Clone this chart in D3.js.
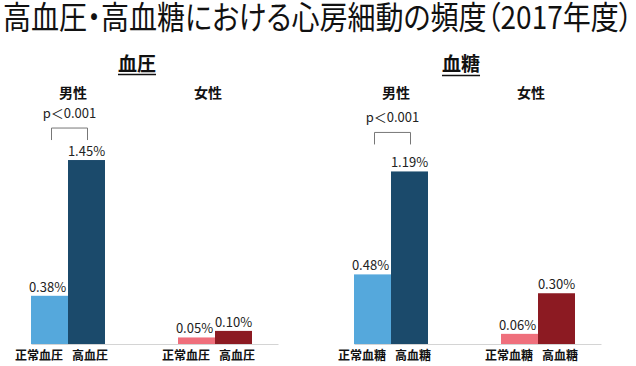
<!DOCTYPE html>
<html><head><meta charset="utf-8">
<script src="https://cdn.jsdelivr.net/npm/d3@7"></script>
<style>
html,body{margin:0;padding:0;background:#fff;}
text{font-family:"Noto Sans CJK JP","Liberation Sans",sans-serif;}
.ttl{font-feature-settings:"palt" 1;}
</style></head>
<body>
<svg id="c" width="636" height="366"></svg>
<script>
// ---- data ----
const title = "高血圧・高血糖における心房細動の頻度（2017年度）";
const panels = ["血圧", "血糖"];
const sexes = ["男性", "女性"];
const catsBP = ["正常血圧", "高血圧"];
const catsBS = ["正常血糖", "高血糖"];
const bpMale = [0.38, 1.45];
const bpFemale = [0.05, 0.10];
const bsMale = [0.48, 1.19];
const bsFemale = [0.06, 0.30];
const pText = ["p＜0.001", "p＜0.001"]; // male comparison in each panel
// y-domain maxima per panel/sex (as drawn in the original figure)
const yMax = [[1.6, 1.55], [1.4, 1.2]];

// ---- layout ----
const baseY = 344, topY = 141;
const panelX0 = [68, 391];
const groupStep = 147;
const barW = 37;
const colors = [["#55a8dc", "#1b4a6b"], ["#ef6f7c", "#8c1a22"]];
const bracketGap = [32, 39];

const svg = d3.select("#c");

// title (vertically stretched as in the original image)
const t = svg.append("text").attr("class", "ttl").attr("x", 0).attr("y", 0)
  .attr("font-size", 26).attr("fill", "#111")
  .attr("transform", "translate(3,29) scale(1,1.22)")
  .text(title);
const tw = t.node().getComputedTextLength();
if (tw > 630) t.attr("textLength", 630).attr("lengthAdjust", "spacingAndGlyphs");
else t.attr("transform", `translate(3,29) scale(${630 / tw},1.22)`);

const panelData = [
  { name: panels[0], cats: catsBP, vals: [bpMale, bpFemale] },
  { name: panels[1], cats: catsBS, vals: [bsMale, bsFemale] }
];

panelData.forEach((p, pi) => {
  const g = svg.append("g");
  const xs = d3.scalePoint().domain(sexes).range([panelX0[pi], panelX0[pi] + groupStep]);
  const xb = d3.scaleBand().domain([0, 1]).range([-barW, barW]).paddingInner(0).paddingOuter(0);

  // baseline axis
  const x1 = xs(sexes[0]) - barW, x2 = xs(sexes[1]) + barW + 26;
  const axisScale = d3.scaleLinear().domain([0, 1]).range([x1, x2]);
  const axisG = g.append("g").attr("transform", `translate(0,${baseY})`)
    .call(d3.axisBottom(axisScale).tickValues([]).tickSizeOuter(0));
  axisG.select(".domain").attr("stroke", "#d4d4d4").attr("stroke-width", 1);

  // panel title, underlined
  const pc = pi === 0 ? 137 : 461;
  const pt = g.append("text").attr("x", pc).attr("y", 71).attr("text-anchor", "middle")
    .attr("font-size", 19).attr("font-weight", "bold").attr("fill", "#111").text(p.name);
  const bb = pt.node().getBBox();
  g.append("line").attr("x1", bb.x).attr("x2", bb.x + bb.width)
    .attr("y1", pi === 0 ? 74.5 : 75.5).attr("y2", pi === 0 ? 74.5 : 75.5)
    .attr("stroke", "#111").attr("stroke-width", 1.5);

  sexes.forEach((s, si) => {
    const y = d3.scaleLinear().domain([0, yMax[pi][si]]).range([baseY, topY]);
    const cx = xs(s);
    const vals = p.vals[si];

    // sex label
    g.append("text").attr("x", cx + (si === 0 ? 5 : -7)).attr("y", 98)
      .attr("text-anchor", "middle").attr("font-size", 14).attr("font-weight", "bold")
      .attr("fill", "#111").text(s);

    // bars
    g.selectAll(null).data(vals).enter().append("rect")
      .attr("x", (d, i) => cx + xb(i)).attr("width", xb.bandwidth())
      .attr("y", d => y(d)).attr("height", d => baseY - y(d))
      .attr("fill", (d, i) => colors[si][i]);

    // value labels
    g.selectAll(null).data(vals).enter().append("text")
      .attr("x", (d, i) => cx + xb(i) + xb.bandwidth() / 2 + (i === 0 ? -2 : 0))
      .attr("y", d => y(d) - 4)
      .attr("text-anchor", "middle").attr("font-size", 13)
      .attr("font-family", "'Liberation Sans',Arial,sans-serif")
      .attr("fill", "#222").text(d => d.toFixed(2) + "%");

    // category labels
    g.selectAll(null).data(p.cats).enter().append("text")
      .attr("x", (d, i) => i === 0 ? cx - 5 : cx + 4)
      .attr("y", 360)
      .attr("text-anchor", (d, i) => i === 0 ? "end" : "start")
      .attr("font-size", 12).attr("font-weight", "bold").attr("fill", "#111").text(d => d);

    // significance bracket for male
    if (si === 0) {
      const yTop = y(d3.max(vals)) - bracketGap[pi];
      const bxL = cx + xb(0) + xb.bandwidth() / 2 + 2;
      const bxR = cx + xb(1) + xb.bandwidth() / 2 + 1;
      g.append("path")
        .attr("d", `M${bxL},${yTop + 12}V${yTop}H${bxR}V${yTop + 12}`)
        .attr("fill", "none").attr("stroke", "#777").attr("stroke-width", 1);
      g.append("text").attr("x", (bxL + bxR) / 2).attr("y", yTop - 10)
        .attr("text-anchor", "middle").attr("font-size", 13)
        .attr("fill", "#222").text(pText[pi]);
    }
  });
});
</script>
</body></html>
